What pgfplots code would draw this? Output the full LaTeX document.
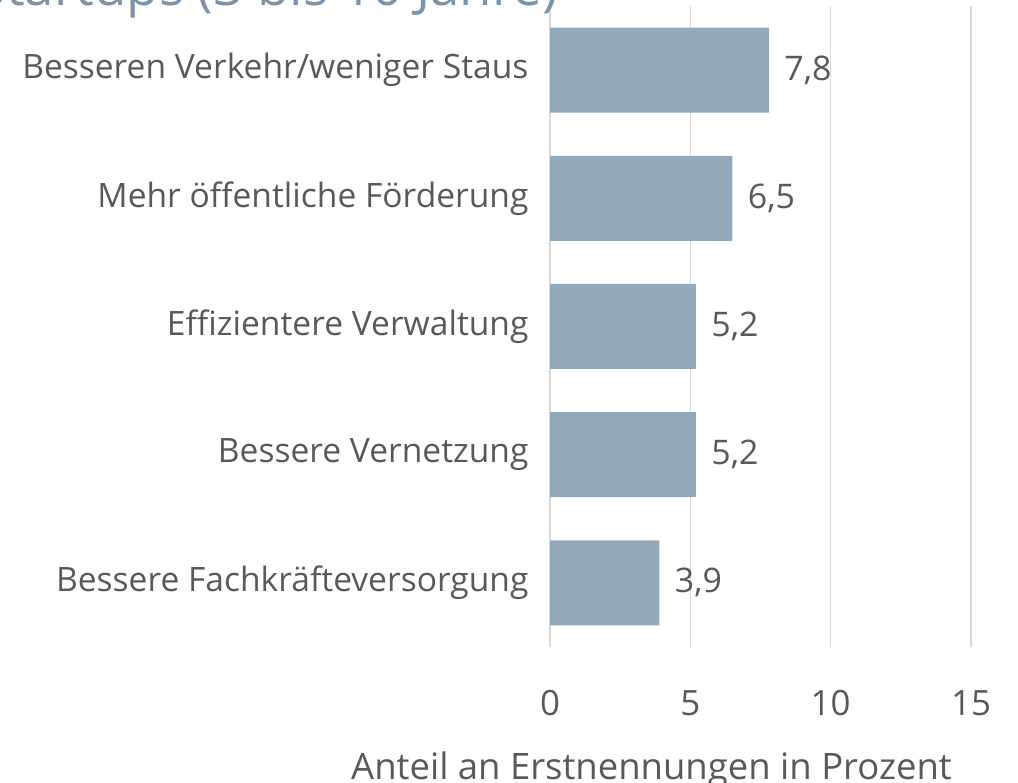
\documentclass[border=0pt]{standalone}
\usepackage{pgfplots}
\pgfplotsset{compat=1.18}
\usepackage{fontspec}
\setmainfont{Open Sans}
\definecolor{barfill}{HTML}{94A8BC}
\definecolor{txt}{HTML}{595959}
\definecolor{titlec}{HTML}{7D93A8}
\definecolor{gridc}{HTML}{D9D9D9}

\begin{document}
\begin{tikzpicture}[x=1bp,y=1bp]
\begin{axis}[
  at={(550bp,136bp)}, anchor=south west,
  scale only axis, width=421bp, height=641bp,
  xbar, bar width=85bp,
  xmin=0, xmax=15, ymin=0.5, ymax=5.5,
  xtick={0,5,10,15},
  ytick={1,2,3,4,5},
  yticklabels={Bessere Fachkräfteversorgung, Bessere Vernetzung, Effizientere Verwaltung, Mehr öffentliche Förderung, Besseren Verkehr/weniger Staus},
  axis line style={draw=none},
  major tick length=0pt,
  xmajorgrids, grid style={gridc, line width=1.5bp},
  yticklabel style={font=\fontsize{33.7}{38}\selectfont, text=txt, xshift=-18bp},
  xticklabel style={font=\fontsize{35}{40}\selectfont, text=txt, yshift=-40bp},
  /pgf/number format/assume math mode=true,
  xlabel={Anteil an Erstnennungen in Prozent},
  xlabel style={font=\fontsize{36.6}{42}\selectfont, text=txt, yshift=-29bp, xshift=-109bp},
  nodes near coords,
  nodes near coords style={font=\fontsize{34}{38}\selectfont, text=txt, xshift=12bp,
    /pgf/number format/.cd, fixed, fixed zerofill, precision=1, use comma},
]
\addplot[fill=barfill, draw=none] coordinates {(3.9,1) (5.2,2) (5.2,3) (6.5,4) (7.8,5)};
\end{axis}
\node[anchor=base east, inner sep=0pt, text=titlec, font=\fontsize{53}{60}\selectfont] at (558bp,777bp) {Startups (3 bis 10 Jahre)};
\pgfresetboundingbox
\useasboundingbox (0,0) rectangle (1018bp,783bp);
\end{tikzpicture}
\end{document}
